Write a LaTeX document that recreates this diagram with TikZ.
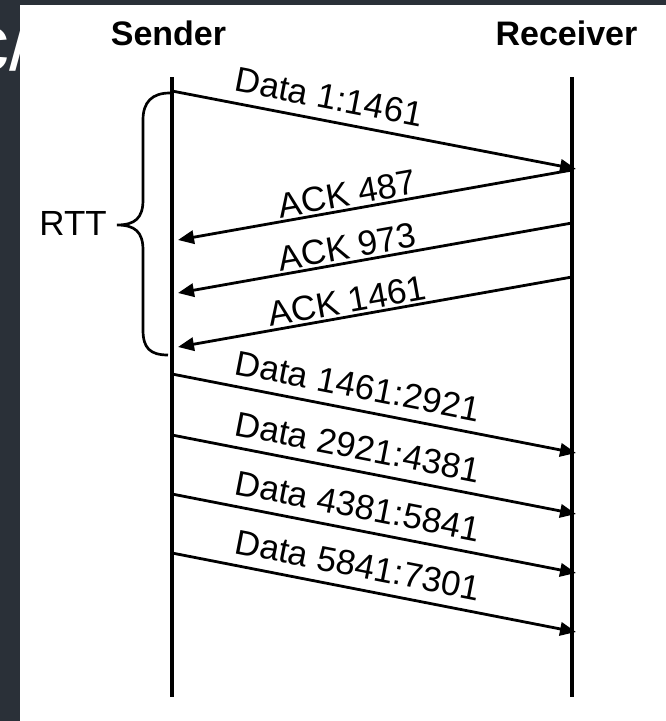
\documentclass[tikz,border=0pt]{standalone}
\usepackage{fontspec}
\setmainfont{Liberation Sans}
\usepackage{xcolor}
\usetikzlibrary{arrows.meta,positioning,calc}
\definecolor{pagedark}{RGB}{42,48,56}
\newcommand{\lblsize}{\fontsize{26.2}{30}\selectfont}
\newcommand{\headsize}{\fontsize{25.5}{30}\selectfont}

\begin{document}
\begin{tikzpicture}[x=0.75pt,y=-0.75pt,font=\lblsize,
  lifeline/.style={line width=3pt},
  msg/.style={line width=2.1pt,-{Triangle[length=12pt,width=10pt]}},
  ackmsg/.style={line width=2.1pt,{Triangle[length=12pt,width=10pt]}-},
  datalabel/.style={sloped,anchor=south west,inner xsep=0pt,inner ysep=7.5pt,pos=0.143},
  acklabel/.style={sloped,anchor=south,inner xsep=0pt,inner ysep=1.5pt,pos=0.436}]
\useasboundingbox (0,0) rectangle (666,721);
% ---------------- page behind the figure ----------------
\fill[pagedark] (0,0) rectangle (666,721);
\begin{scope}
  \clip (0,0) rectangle (20,721);
  \node[white,anchor=base west,inner sep=0pt,font=\fontsize{60}{60}\selectfont] (cut) at (-31,70) {c/};
\end{scope}
\fill[white] (20,5) rectangle (666,721);
% ---------------- lifelines ----------------
\node[font=\headsize\bfseries,anchor=base,inner sep=0pt] (sender) at (168.5,45) {Sender};
\node[font=\headsize\bfseries,anchor=base,inner sep=0pt] (receiver) at (566.5,45) {Receiver};
\coordinate (stop) at (172,77);  \coordinate (sbot) at (172,697);
\coordinate (rtop) at (572,77);  \coordinate (rbot) at (572,697);
\draw[lifeline] (stop) -- (sbot);
\draw[lifeline] (rtop) -- (rbot);
% ---------------- first segment and its acks ----------------
\coordinate (ds0) at (172,91);  \coordinate (dr0) at (576,169);
\draw[msg] (ds0) -- node[datalabel] {Data 1:1461} (dr0);
\foreach \ys/\yr/\lab [count=\i] in {240/170/487,293/223/973,347/277/1461}{
  \coordinate (as\i) at (178,\ys);
  \coordinate (ar\i) at (572,\yr);
  \draw[ackmsg] (as\i) -- node[acklabel] {ACK \lab} (ar\i);}
% ---------------- RTT brace ----------------
\draw[line width=2pt]
  (170,93) .. controls (152,93) and (143,102) .. (143,120) -- (143,200)
  .. controls (143,218) and (135,225) .. (117,225)
  .. controls (135,225) and (143,232) .. (143,250) -- (143,330)
  .. controls (143,348) and (150,355) .. (168,355);
\node[anchor=base east,inner sep=0pt] (rtt) at (107,235) {RTT};
% ---------------- window of data segments ----------------
\foreach \y/\lab [count=\i] in {374/1461:2921,435/2921:4381,494/4381:5841,553/5841:7301}{
  \coordinate (ds\i) at (172,\y);
  \coordinate (dr\i) at (576,\y+79);
  \draw[msg] (ds\i) -- node[datalabel] {Data \lab} (dr\i);}
\end{tikzpicture}
\end{document}
